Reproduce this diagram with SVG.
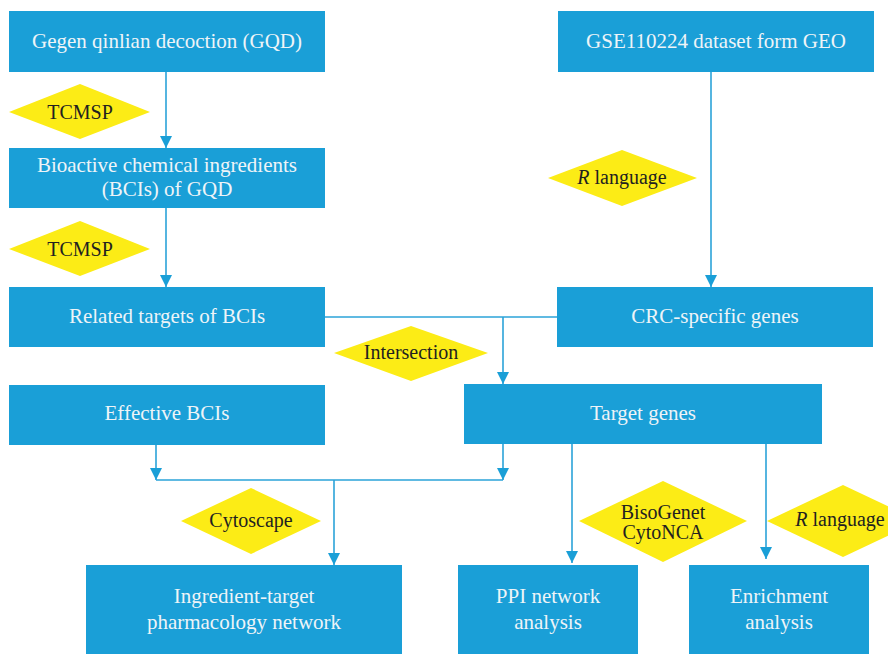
<svg xmlns="http://www.w3.org/2000/svg" width="888" height="654" viewBox="0 0 888 654" font-family="'Liberation Serif', 'DejaVu Serif', serif">
<style>
.box{fill:#1a9fd7}
.bt{fill:#eef4f8;font-family:'Liberation Serif','DejaVu Serif',serif;font-size:21px;text-anchor:middle}
.dm{fill:#fcec16}
.dt{fill:#231f20;font-family:'Liberation Serif','DejaVu Serif',serif;font-size:20px;text-anchor:middle}
.ln{stroke:#2ba3d9;stroke-width:1.6;fill:none}
</style>
<defs>
<marker id="arr" markerUnits="userSpaceOnUse" markerWidth="14" markerHeight="14" viewBox="0 0 14 14" refX="12" refY="7" orient="auto">
<path d="M0,1 L12,7 L0,13 Z" fill="#1a9fd7"/>
</marker>
</defs>
<g id="connectors">
<line class="ln" x1="166" y1="72" x2="166" y2="148" marker-end="url(#arr)"/>
<line class="ln" x1="166" y1="208" x2="166" y2="287" marker-end="url(#arr)"/>
<line class="ln" x1="711" y1="72" x2="711" y2="287" marker-end="url(#arr)"/>
<line class="ln" x1="325" y1="317" x2="557" y2="317"/>
<line class="ln" x1="503" y1="317" x2="503" y2="384" marker-end="url(#arr)"/>
<line class="ln" x1="156" y1="445" x2="156" y2="480" marker-end="url(#arr)"/>
<line class="ln" x1="503" y1="444" x2="503" y2="480" marker-end="url(#arr)"/>
<line class="ln" x1="156" y1="480" x2="503" y2="480"/>
<line class="ln" x1="334" y1="480" x2="334" y2="565" marker-end="url(#arr)"/>
<line class="ln" x1="572" y1="444" x2="572" y2="563" marker-end="url(#arr)"/>
<line class="ln" x1="766" y1="444" x2="766" y2="559" marker-end="url(#arr)"/>
</g>
<g id="n_gqd"><rect class="box" x="9" y="11" width="316" height="61"/><text class="bt" x="167" y="48">Gegen qinlian decoction (GQD)</text></g>
<g id="n_geo"><rect class="box" x="558" y="11" width="316" height="61"/><text class="bt" x="716" y="48">GSE110224 dataset form GEO</text></g>
<g id="d_tcmsp1"><polygon class="dm" points="9,112 80,84 150,112 80,139"/><text class="dt" x="80" y="119">TCMSP</text></g>
<g id="n_bci"><rect class="box" x="9" y="148" width="316" height="60"/><text class="bt" x="167" y="172">Bioactive chemical ingredients</text><text class="bt" x="167" y="196">(BCIs) of GQD</text></g>
<g id="d_r1"><polygon class="dm" points="548,178 622,150 697,178 622,206"/><text class="dt" x="622" y="184"><tspan font-style="italic">R</tspan> language</text></g>
<g id="d_tcmsp2"><polygon class="dm" points="9,249 80,221 150,249 80,276"/><text class="dt" x="80" y="256">TCMSP</text></g>
<g id="n_rel"><rect class="box" x="9" y="287" width="316" height="60"/><text class="bt" x="167" y="323">Related targets of BCIs</text></g>
<g id="n_crc"><rect class="box" x="557" y="287" width="316" height="60"/><text class="bt" x="715" y="323">CRC-specific genes</text></g>
<g id="d_inter"><polygon class="dm" points="334,353 411,326 488,353 411,381"/><text class="dt" x="411" y="359">Intersection</text></g>
<g id="n_eff"><rect class="box" x="9" y="385" width="316" height="60"/><text class="bt" x="167" y="420">Effective BCIs</text></g>
<g id="n_tg"><rect class="box" x="464" y="384" width="358" height="60"/><text class="bt" x="643" y="420">Target genes</text></g>
<g id="d_cyto"><polygon class="dm" points="181,521 251,488 321,521 251,554"/><text class="dt" x="251" y="527">Cytoscape</text></g>
<g id="d_biso"><polygon class="dm" points="579,521 663,481 747,521 663,562"/><text class="dt" x="663" y="519">BisoGenet</text><text class="dt" x="663" y="539">CytoNCA</text></g>
<g id="d_r2"><polygon class="dm" points="767,521 843,485 919,521 843,557"/><text class="dt" x="840" y="526"><tspan font-style="italic">R</tspan> language</text></g>
<g id="n_ing"><rect class="box" x="86" y="565" width="316" height="89"/><text class="bt" x="244" y="603">Ingredient-target</text><text class="bt" x="244" y="629">pharmacology network</text></g>
<g id="n_ppi"><rect class="box" x="458" y="565" width="180" height="89"/><text class="bt" x="548" y="603">PPI network</text><text class="bt" x="548" y="629">analysis</text></g>
<g id="n_enr"><rect class="box" x="689" y="565" width="180" height="89"/><text class="bt" x="779" y="603">Enrichment</text><text class="bt" x="779" y="629">analysis</text></g>
</svg>
